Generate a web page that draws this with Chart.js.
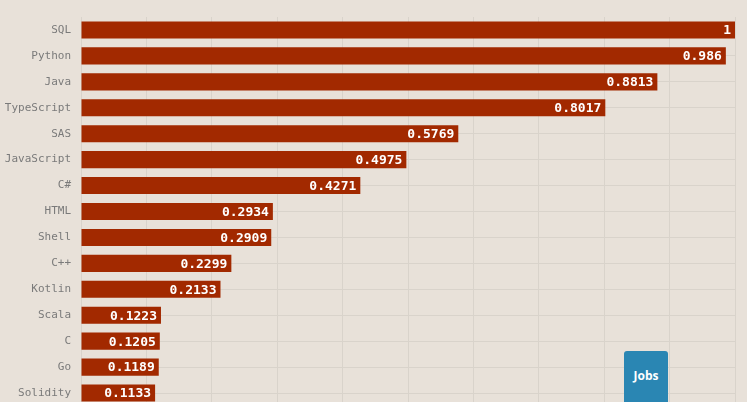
<!DOCTYPE html>
<html>
<head>
<meta charset="utf-8">
<script src="https://cdn.jsdelivr.net/npm/chart.js@4/dist/chart.umd.min.js"></script>
<style>
  html, body { margin: 0; padding: 0; background: #e8e1d9; overflow: hidden; }
  #wrap { position: relative; width: 747px; height: 432px; }
  #jobs { position: absolute; left: 624px; top: 351px; width: 44px; height: 56px;
          background: #2a86b3; border-radius: 3px; color: #fff;
          font: bold 12px "Open Sans", "DejaVu Sans", sans-serif;
          display: flex; align-items: flex-start; justify-content: center; padding-top: 16px; box-sizing: border-box; }
</style>
</head>
<body>
<div id="wrap">
  <canvas id="c" width="747" height="432"></canvas>
  <div id="jobs">Jobs</div>
</div>
<script>
const languages = ["SQL","Python","Java","TypeScript","SAS","JavaScript","C#","HTML","Shell","C++","Kotlin","Scala","C","Go","Solidity"];
const jobShare = [1, 0.986, 0.8813, 0.8017, 0.5769, 0.4975, 0.4271, 0.2934, 0.2909, 0.2299, 0.2133, 0.1223, 0.1205, 0.1189, 0.1133];
const valueLabels = ["1","0.986","0.8813","0.8017","0.5769","0.4975","0.4271","0.2934","0.2909","0.2299","0.2133","0.1223","0.1205","0.1189","0.1133"];

const valueLabelPlugin = {
  id: 'valueLabels',
  afterDatasetsDraw(chart) {
    const ctx = chart.ctx;
    const meta = chart.getDatasetMeta(0);
    ctx.save();
    ctx.font = 'bold 13px "DejaVu Sans Mono", monospace';
    ctx.fillStyle = '#ffffff';
    ctx.textAlign = 'right';
    ctx.textBaseline = 'middle';
    meta.data.forEach((bar, i) => {
      ctx.fillText(valueLabels[i], bar.x - 4, bar.y + 1);
    });
    ctx.restore();
  }
};

new Chart(document.getElementById('c'), {
  type: 'bar',
  data: {
    labels: languages,
    datasets: [{
      data: jobShare,
      backgroundColor: '#a22900',
      borderWidth: 0,
      barPercentage: 0.66,
      categoryPercentage: 1.0
    }]
  },
  options: {
    indexAxis: 'y',
    responsive: false,
    animation: false,
    layout: { padding: { top: 17, right: 12, bottom: 26, left: 0 } },
    plugins: { legend: { display: false }, tooltip: { enabled: false } },
    scales: {
      x: {
        min: 0, max: 1,
        ticks: { display: false, stepSize: 0.1 },
        grid: { color: '#d9d3cb', lineWidth: 1, drawTicks: false },
        border: { display: false }
      },
      y: {
        ticks: { color: '#7a7a7a', font: { family: '"DejaVu Sans Mono", monospace', size: 11 }, padding: 10 },
        grid: { color: '#d9d3cb', lineWidth: 1, drawTicks: false, offset: false },
        border: { display: false },
        afterFit(scale) { scale.width = 81; }
      }
    }
  },
  plugins: [valueLabelPlugin]
});
</script>
</body>
</html>
